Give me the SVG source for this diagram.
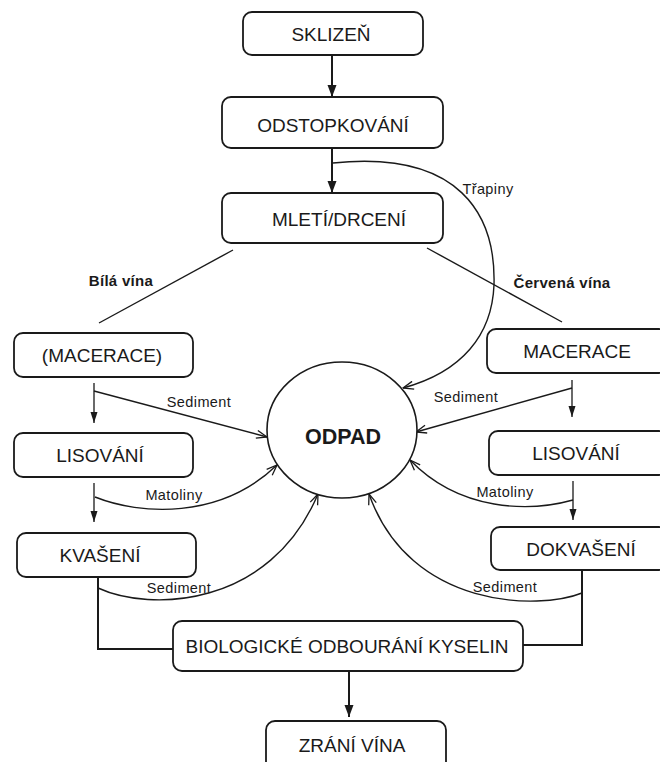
<svg xmlns="http://www.w3.org/2000/svg" width="660" height="762" viewBox="0 0 660 762">
<style>
.box{fill:#fff;stroke:#1a1a1a;stroke-width:1.8}
.t{font-family:"Liberation Sans",Arial,sans-serif;font-size:19px;fill:#1a1a1a;text-anchor:middle}
.lbl{font-family:"Liberation Sans",Arial,sans-serif;font-size:14.5px;fill:#1a1a1a;text-anchor:middle;letter-spacing:0.4px}
.blbl{font-family:"Liberation Sans",Arial,sans-serif;font-size:15px;font-weight:bold;fill:#1a1a1a;text-anchor:middle;letter-spacing:0.3px}
.c{fill:none;stroke:#1a1a1a;stroke-width:1.4}
.main{fill:none;stroke:#1a1a1a;stroke-width:2}
.thin{fill:none;stroke:#1a1a1a;stroke-width:1.3}
</style>
<defs>
<marker id="open" viewBox="0 0 12 10" refX="11.5" refY="5" markerWidth="12" markerHeight="10" markerUnits="userSpaceOnUse" orient="auto">
<path d="M1,1 L11.5,5 L1,9" fill="none" stroke="#1a1a1a" stroke-width="1.3"/>
</marker>
<marker id="solid" viewBox="0 0 12 10" refX="12" refY="5" markerWidth="12" markerHeight="10" markerUnits="userSpaceOnUse" orient="auto">
<path d="M0,0.5 L12,5 L0,9.5 z" fill="#1a1a1a"/>
</marker>
<marker id="solidS" viewBox="0 0 11 8" refX="11" refY="4" markerWidth="11" markerHeight="8" markerUnits="userSpaceOnUse" orient="auto">
<path d="M0,0.5 L11,4 L0,7.5 z" fill="#1a1a1a"/>
</marker>
</defs>
<rect width="660" height="762" fill="#fff"/>

<g id="connectors">
<line class="main" x1="332" y1="55" x2="332" y2="97" marker-end="url(#solid)"/>
<line class="main" x1="332" y1="148" x2="332" y2="193" marker-end="url(#solid)"/>
<path class="c" d="M333,163 C460,150 496,215 494,285 C492,335 462,372 403,388" marker-end="url(#open)"/>
<line class="c" x1="233" y1="250" x2="99" y2="323"/>
<line class="c" x1="427" y1="248" x2="562" y2="322"/>
<line class="thin" x1="94" y1="383" x2="94" y2="423" marker-end="url(#solidS)"/>
<line class="c" x1="94" y1="391" x2="267" y2="437" marker-end="url(#open)"/>
<line class="thin" x1="94" y1="483" x2="94" y2="522" marker-end="url(#solidS)"/>
<path class="c" d="M95,497 C140,515 220,520 277,465" marker-end="url(#open)"/>
<path class="c" d="M98,588 C150,612 270,608 318,494" marker-end="url(#open)"/>
<line class="thin" x1="572" y1="380" x2="572" y2="417" marker-end="url(#solidS)"/>
<line class="c" x1="572" y1="388" x2="416" y2="432" marker-end="url(#open)"/>
<line class="thin" x1="573" y1="481" x2="573" y2="520" marker-end="url(#solidS)"/>
<path class="c" d="M573,500 C530,512 460,512 410,460" marker-end="url(#open)"/>
<path class="c" d="M582,593 C540,610 410,610 369,494" marker-end="url(#open)"/>
<path class="main" d="M98,577 V649 H173"/>
<path class="main" d="M582,570 V645 H523"/>
<line class="main" x1="349" y1="671" x2="349" y2="717" marker-end="url(#solid)"/>
<text class="lbl" x="488" y="194">Třapiny</text>
<text class="blbl" x="121" y="286">Bílá vína</text>
<text class="blbl" x="562" y="288">Červená vína</text>
<text class="lbl" x="199" y="407">Sediment</text>
<text class="lbl" x="466" y="402">Sediment</text>
<text class="lbl" x="174" y="500">Matoliny</text>
<text class="lbl" x="505" y="497">Matoliny</text>
<text class="lbl" x="179" y="593">Sediment</text>
<text class="lbl" x="505" y="592">Sediment</text>
</g>

<g id="sklizen"><rect class="box" x="243" y="12" width="180" height="43" rx="9"/><text class="t" x="331" y="41">SKLIZEŇ</text></g>
<g id="odstopkovani"><rect class="box" x="222" y="97" width="221" height="51" rx="9"/><text class="t" x="333" y="132">ODSTOPKOVÁNÍ</text></g>
<g id="mleti"><rect class="box" x="222" y="193" width="221" height="50" rx="9"/><text class="t" x="339" y="226">MLETÍ/DRCENÍ</text></g>
<g id="odpad"><ellipse cx="342" cy="430" rx="75" ry="68" fill="#fff" stroke="#1a1a1a" stroke-width="1.6"/><text x="343" y="444" font-family="Liberation Sans, Arial, sans-serif" font-size="21.5" font-weight="bold" fill="#1a1a1a" text-anchor="middle">ODPAD</text></g>
<g id="macerace-l"><rect class="box" x="14" y="333" width="179" height="44" rx="9"/><text class="t" x="102" y="362">(MACERACE)</text></g>
<g id="lisovani-l"><rect class="box" x="14" y="433" width="179" height="44" rx="9"/><text class="t" x="100" y="462">LISOVÁNÍ</text></g>
<g id="kvaseni"><rect class="box" x="17" y="533" width="179" height="44" rx="9"/><text class="t" x="100" y="562">KVAŠENÍ</text></g>
<g id="macerace-r"><rect class="box" x="487" y="329" width="181" height="44" rx="9"/><text class="t" x="577" y="358">MACERACE</text></g>
<g id="lisovani-r"><rect class="box" x="489" y="431" width="179" height="44" rx="9"/><text class="t" x="576" y="460">LISOVÁNÍ</text></g>
<g id="dokvaseni"><rect class="box" x="491" y="527" width="177" height="43" rx="9"/><text class="t" x="581" y="556">DOKVAŠENÍ</text></g>
<g id="bio"><rect class="box" x="173" y="621" width="350" height="50" rx="9"/><text class="t" x="347" y="653">BIOLOGICKÉ ODBOURÁNÍ KYSELIN</text></g>
<g id="zrani"><rect class="box" x="266" y="721" width="180" height="50" rx="9"/><text class="t" x="352" y="752">ZRÁNÍ VÍNA</text></g>
</svg>
